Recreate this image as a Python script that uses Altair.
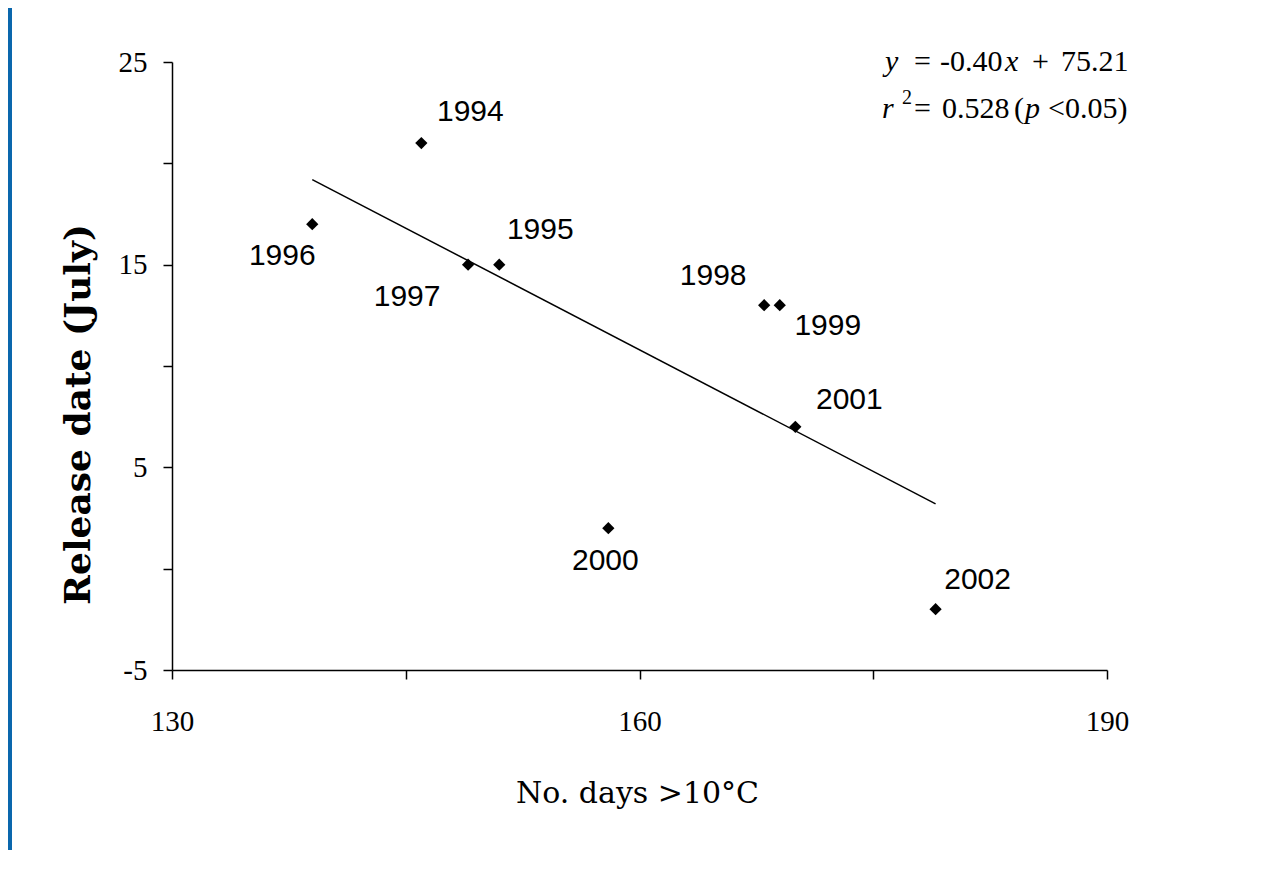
import altair as alt
import pandas as pd

# ---- data ----
years = ["1994", "1995", "1996", "1997", "1998", "1999", "2000", "2001", "2002"]
days_over_10 = [146, 151, 139, 149, 168, 169, 158, 170, 179]
release_date = [21, 15, 17, 15, 13, 13, 2, 7, -2]

trend_days = [139, 179]
trend_release = [19.2, 3.2]

x_ticks = [130, 145, 160, 175, 190]
y_ticks = [-5, 0, 5, 10, 15, 20, 25]

x_title = "No. days >10°C"
y_title = "Release date (July)"

# ---- styling / layout ----
W, H = 935, 608
PAD_L, PAD_T, PAD_R, PAD_B = 164, 54, 150, 180

label_offsets = {
    "1994": (49, -31), "1995": (41, -35), "1996": (-30, 32), "1997": (-61, 32),
    "1998": (-51, -29), "1999": (48, 21), "2000": (-3, 33), "2001": (54, -27),
    "2002": (42, -29),
}

df = pd.DataFrame({"year": years, "days": days_over_10, "release": release_date})
trend = pd.DataFrame({"days": trend_days, "release": trend_release})

xs = alt.Scale(domain=[130, 190], nice=False, zero=False)
ys = alt.Scale(domain=[-5, 25], nice=False, zero=False)

x_axis = alt.Axis(
    values=x_ticks,
    labelExpr="datum.value % 30 == 10 ? toString(datum.value) : ''",
    title=x_title,
    titleFont="DejaVu Serif", titleFontSize=30, titleFontWeight="normal",
    titleColor="black", titleX=465, titleY=123, titleBaseline="middle",
    titleAlign="center",
    labelFont="Liberation Serif", labelFontSize=29, labelColor="black",
    labelPadding=28, labelFlush=False, labelOverlap=False,
    tickSize=9, tickColor="black", tickWidth=1.5,
    domainColor="black", domainWidth=1.5, grid=False,
)
y_axis = alt.Axis(
    values=y_ticks,
    labelExpr="abs(datum.value) % 10 == 5 ? toString(datum.value) : ''",
    title=y_title,
    titleFont="DejaVu Serif", titleFontSize=36, titleFontWeight="bold",
    titleColor="black", titleAngle=270, titleX=-94, titleY=352,
    titleBaseline="middle", titleAlign="center",
    labelFont="Liberation Serif", labelFontSize=29, labelColor="black",
    labelPadding=16, labelFlush=False, labelOverlap=False,
    tickSize=9, tickColor="black", tickWidth=1.5,
    domainColor="black", domainWidth=1.5, grid=False,
)

line = alt.Chart(trend).mark_line(color="black", strokeWidth=1.5).encode(
    x=alt.X("days:Q", scale=xs, axis=x_axis),
    y=alt.Y("release:Q", scale=ys, axis=y_axis),
)

points = alt.Chart(df).mark_point(
    shape="diamond", filled=True, color="black", size=150, opacity=1
).encode(
    x=alt.X("days:Q", scale=xs),
    y=alt.Y("release:Q", scale=ys),
)

label_layers = []
for yr in years:
    dx, dy = label_offsets[yr]
    label_layers.append(
        alt.Chart(df).transform_filter(alt.datum.year == yr).mark_text(
            font="Liberation Sans", fontSize=30, color="black",
            align="center", baseline="middle", dx=dx, dy=dy,
        ).encode(
            x=alt.X("days:Q", scale=xs),
            y=alt.Y("release:Q", scale=ys),
            text="year:N",
        )
    )

# equation annotation pieces: (text, plot-relative x, y, font size, italic)
eq_pieces = [
    ("y", 713, 9, 30, True),
    ("=", 742, 9, 30, False),
    ("-0.40", 768, 9, 30, False),
    ("x", 833, 9, 30, True),
    ("+", 860, 9, 30, False),
    ("75.21", 889, 9, 30, False),
    ("r", 710, 56, 30, True),
    ("2", 730, 42, 20, False),
    ("=", 742, 56, 30, False),
    ("0.528", 770, 56, 30, False),
    ("(", 842, 56, 30, False),
    ("p", 853, 56, 30, True),
    ("<0.05)", 876, 56, 30, False),
]
eq_layers = []
for t, px, py, fs, it in eq_pieces:
    eq_layers.append(
        alt.Chart(pd.DataFrame({"t": [t]})).mark_text(
            font="Liberation Serif", fontSize=fs, color="black",
            fontStyle="italic" if it else "normal",
            align="left", baseline="alphabetic",
        ).encode(x=alt.value(px), y=alt.value(py), text="t:N")
    )

frame = alt.Chart(pd.DataFrame({"k": [0]})).mark_rect(color="#0a67ad").encode(
    x=alt.value(-PAD_L), x2=alt.value(-PAD_L + 4),
    y=alt.value(-PAD_T), y2=alt.value(H + PAD_B),
)

chart = alt.layer(frame, line, points, *label_layers, *eq_layers).properties(
    width=W, height=H,
    padding={"left": PAD_L, "top": PAD_T, "right": PAD_R, "bottom": PAD_B},
    autosize=alt.AutoSizeParams(type="none"),
    background="white",
).configure_view(stroke=None)

chart.save("out.html", embed_options={"renderer": "svg", "actions": False})
